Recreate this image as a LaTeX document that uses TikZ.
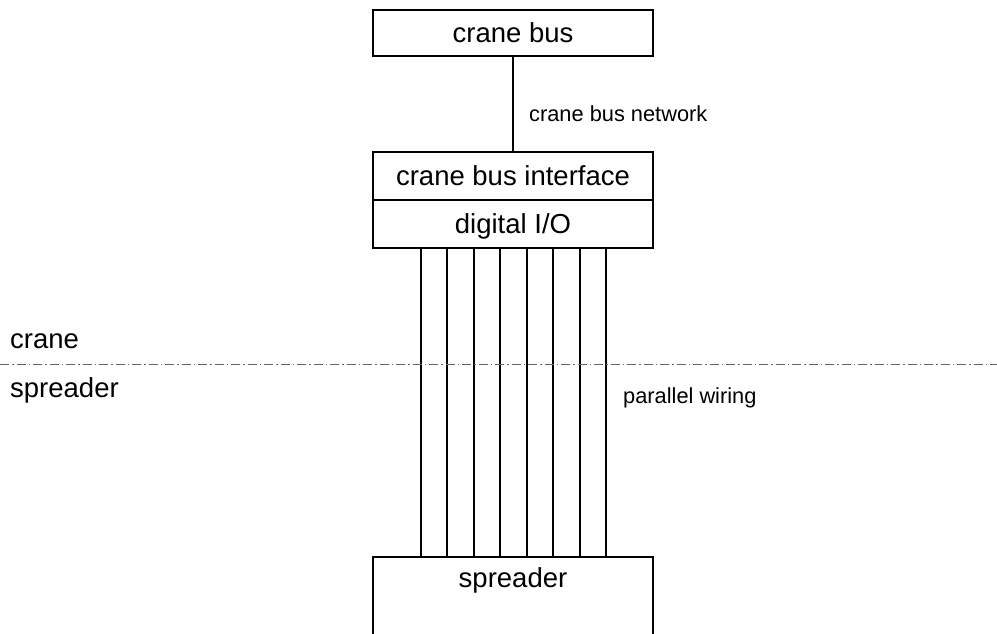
\documentclass[tikz,border=0pt]{standalone}
\usepackage{fontspec}
\setmainfont{Liberation Sans}
\begin{document}
\begin{tikzpicture}[x=1pt,y=-1pt,
  box/.style={draw=black,line width=2pt,minimum width=280pt,inner sep=0pt,
    text height=19.5pt,text depth=0pt,font=\fontsize{27.5}{33}\selectfont},
  big/.style={font=\fontsize{27.5}{33}\selectfont,inner sep=0pt,anchor=base west},
  small/.style={font=\fontsize{21.8}{26}\selectfont,inner sep=0pt,anchor=base west},
  wire/.style={line width=2pt},
  divider/.style={line width=0.8pt,black!60,dash pattern=on 9pt off 3pt on 1.5pt off 3pt}]
\useasboundingbox (0,0) rectangle (997,633);
\clip (0,0) rectangle (997,633);
\node[box,minimum height=46pt] (cb) at (513,33) {crane bus};
\node[box,minimum height=48pt] (cbi) at (513,176) {crane bus interface};
\node[box,minimum height=48pt] (dio) at (513,224) {digital I/O};
\node[draw=black,line width=2pt,minimum width=280pt,minimum height=120pt,inner sep=0pt] (spr) at (513,617) {};
\node[font=\fontsize{27.5}{33}\selectfont,inner sep=0pt,anchor=base] (sprt) at (513,587) {spreader};
\draw[wire] (cb.south) -- (cbi.north);
\foreach \x in {421,447.4,473.9,500.3,526.7,553.1,579.6,606} {
  \draw[wire] (dio.south -| \x,0) -- (spr.north -| \x,0);
}
\coordinate (dl) at (0,364);
\coordinate (dr) at (997,364);
\draw[divider] (dl) -- (dr);
\node[big] (lc) at (10,348) {crane};
\node[big] (ls) at (10,397) {spreader};
\node[small] (net) at (529,121.5) {crane bus network};
\node[small] (pw) at (623,403) {parallel wiring};
\end{tikzpicture}
\end{document}
